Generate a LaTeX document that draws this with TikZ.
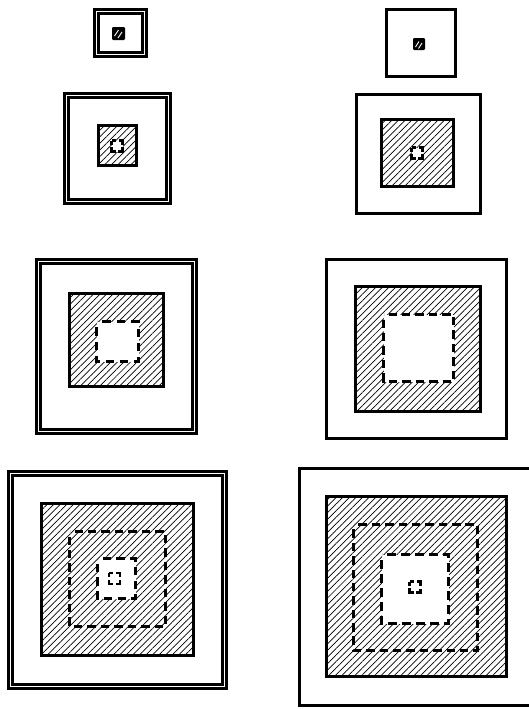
\documentclass[tikz,border=0pt]{standalone}
\usetikzlibrary{patterns.meta,decorations}

\begin{document}
\begin{tikzpicture}[x=0.05cm,y=-0.05cm,
    frame/.style={line width=4.6pt},
    dframe/.style={line width=3.8pt,double=white,double distance=2.4pt},
    hatched/.style={line width=4.4pt,pattern={Lines[angle=45,distance=6.6pt,line width=1pt]}},
    hole/.style={line width=4pt,dash pattern=on 12pt off 7pt,dash expand off},
    pinhole/.style={line width=3.6pt,dash pattern=on 11.6pt off 4pt,dash phase=5.8pt}]

    % 全体の大きさ
    \useasboundingbox (0,0) rectangle (529,709);

    % 1段目
    \draw [dframe] (96.5,11.5) rectangle (144.5,54.5);
    \fill [rounded corners=1.5pt] (112,27) rectangle (125,40);
    \draw [white,line width=1.3pt] (114.5,36) -- (118.5,30) (118,38) -- (122,32);
    \draw [frame] (386.5,9.5) rectangle (455.5,76.5);
    \fill [rounded corners=1.5pt] (413,38) rectangle (425,50);
    \draw [white,line width=1.3pt] (415.5,47) -- (419,41.5) (418.5,48.5) -- (422,43);

    % 2段目
    \draw [dframe] (66.5,95.5) rectangle (168.5,201.5);
    \draw [hatched] (98.5,125.5) rectangle (136.5,165.5);
    \filldraw [pinhole,fill=white] (111.5,140.5) rectangle (122.5,151.5);
    \draw [frame] (356.5,94.5) rectangle (480.5,213.5);
    \draw [hatched] (381.5,119.5) rectangle (453.5,186.5);
    \filldraw [pinhole,fill=white] (411.5,147.5) rectangle (422.5,158.5);

    % 3段目
    \draw [dframe] (38.5,261.5) rectangle (194.5,431.5);
    \draw [hatched] (69.5,293.5) rectangle (163.5,386.5);
    \filldraw [hole,fill=white] (96.5,321.5) rectangle (138.5,361.5);
    \draw [frame] (326.5,259.5) rectangle (506.5,438.5);
    \draw [hatched] (355.5,286.5) rectangle (480.5,411.5);
    \filldraw [hole,fill=white] (383.5,314.5) rectangle (453.5,381.5);

    % 4段目
    \draw [dframe] (10.5,473.5) rectangle (224.5,686.5);
    \draw [hatched] (41.5,503.5) rectangle (193.5,655.5);
    \draw [hole] (69.5,531.5) rectangle (165.5,626.5);
    \filldraw [hole,fill=white] (97.5,558.5) rectangle (135.5,598.5);
    \draw [pinhole] (109,573) rectangle (120,584);
    \draw [frame] (299.5,468.5) rectangle (540,705.5);
    \draw [hatched] (326.5,496.5) rectangle (506.5,676.5);
    \draw [hole] (353.5,524.5) rectangle (477.5,650.5);
    \filldraw [hole,fill=white] (381.5,554.5) rectangle (448.5,623.5);
    \draw [pinhole] (409.5,581.5) rectangle (420.5,592.5);

\end{tikzpicture}
\end{document}
